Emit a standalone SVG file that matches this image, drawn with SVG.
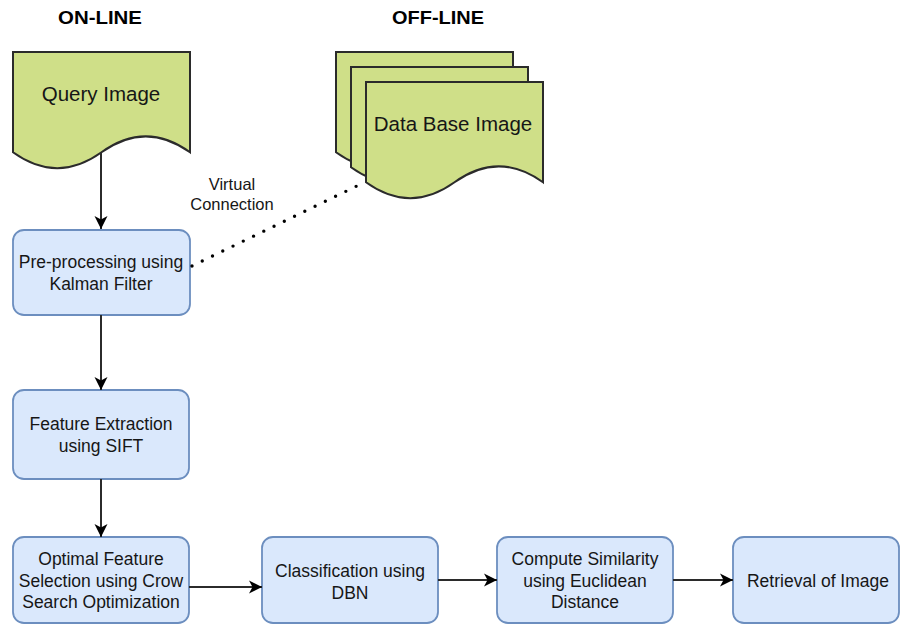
<svg xmlns="http://www.w3.org/2000/svg" width="900" height="625" viewBox="0 0 900 625">
  <style>
    text { font-family: "Liberation Sans", Arial, sans-serif; fill: #161616; text-anchor: middle; }
    .title { font-size: 18px; font-weight: bold; fill: #000; }
    .doc { fill: #cfdf88; stroke: #2b2b2b; stroke-width: 2; }
    .doc-label { font-size: 20.5px; }
    .box { fill: #dae8fc; stroke: #6c8ebf; stroke-width: 1.8; }
    .box-label { font-size: 17.5px; }
    .edge { fill: none; stroke: #2b2b2b; stroke-width: 2; }
    .virtual { fill: none; stroke: #000; stroke-width: 3.4; stroke-linecap: round; stroke-dasharray: 0 11.4; }
    .note { font-size: 16.5px; }
  </style>
  <defs>
    <!-- document shape with wavy bottom, 177 x 118 -->
    <path id="docShape" d="M0,0 H177 V100.3 Q132.75,68.44 88.5,100.3 Q44.25,132.16 0,100.3 Z"/>
    <marker id="arrow" markerUnits="userSpaceOnUse" markerWidth="14" markerHeight="14" refX="13" refY="7" orient="auto">
      <path d="M0,0.5 L13,7 L0,13.5 L3.5,7 Z" fill="#000"/>
    </marker>
  </defs>

  <rect width="900" height="625" fill="#fff"/>

  <text class="title" x="100" y="24" textLength="84" lengthAdjust="spacingAndGlyphs">ON-LINE</text>
  <text class="title" x="438" y="24" textLength="92" lengthAdjust="spacingAndGlyphs">OFF-LINE</text>

  <g id="query-image">
    <use href="#docShape" class="doc" x="13" y="52"/>
    <text class="doc-label" x="101" y="101">Query Image</text>
  </g>

  <g id="database-image">
    <use href="#docShape" class="doc" x="336" y="52"/>
    <use href="#docShape" class="doc" x="351" y="67"/>
    <use href="#docShape" class="doc" x="366" y="82"/>
    <text class="doc-label" x="453" y="131">Data Base Image</text>
  </g>

  <g id="preprocessing">
    <rect class="box" x="13" y="230" width="177" height="85" rx="11"/>
    <text class="box-label" x="101" y="268">Pre-processing using</text>
    <text class="box-label" x="101" y="290">Kalman Filter</text>
  </g>

  <g id="feature-extraction">
    <rect class="box" x="13" y="390" width="176" height="89" rx="11"/>
    <text class="box-label" x="101" y="430">Feature Extraction</text>
    <text class="box-label" x="101" y="452">using SIFT</text>
  </g>

  <g id="feature-selection">
    <rect class="box" x="13" y="537" width="176" height="86" rx="11"/>
    <text class="box-label" x="101" y="565">Optimal Feature</text>
    <text class="box-label" x="101" y="587">Selection using Crow</text>
    <text class="box-label" x="101" y="608">Search Optimization</text>
  </g>

  <g id="classification">
    <rect class="box" x="262" y="537" width="176" height="86" rx="11"/>
    <text class="box-label" x="350" y="577">Classification using</text>
    <text class="box-label" x="350" y="599">DBN</text>
  </g>

  <g id="similarity">
    <rect class="box" x="497" y="537" width="176" height="86" rx="11"/>
    <text class="box-label" x="585" y="565">Compute Similarity</text>
    <text class="box-label" x="585" y="587">using Euclidean</text>
    <text class="box-label" x="585" y="608">Distance</text>
  </g>

  <g id="retrieval">
    <rect class="box" x="733" y="537" width="166" height="86" rx="11"/>
    <text class="box-label" x="818" y="587">Retrieval of Image</text>
  </g>

  <g id="connectors">
    <path class="edge" d="M101,153 V229" marker-end="url(#arrow)"/>
    <path class="edge" d="M101,315 V390" marker-end="url(#arrow)"/>
    <path class="edge" d="M101,479 V537" marker-end="url(#arrow)"/>
    <path class="edge" d="M189,587 H262" marker-end="url(#arrow)"/>
    <path class="edge" d="M438,580 H497" marker-end="url(#arrow)"/>
    <path class="edge" d="M673,580 H733" marker-end="url(#arrow)"/>
    <path class="virtual" d="M192,266 L363,183"/>
    <text class="note" x="232" y="190">Virtual</text>
    <text class="note" x="232" y="210">Connection</text>
  </g>
</svg>
